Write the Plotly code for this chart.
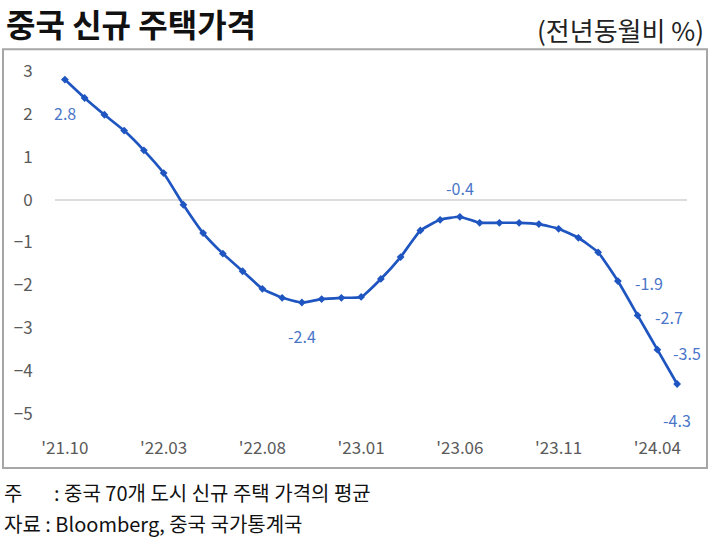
import plotly.graph_objects as go

# ---- data ----
months = ["21.10", "21.11", "21.12", "22.01", "22.02", "22.03", "22.04", "22.05",
          "22.06", "22.07", "22.08", "22.09", "22.10", "22.11", "22.12", "23.01",
          "23.02", "23.03", "23.04", "23.05", "23.06", "23.07", "23.08", "23.09",
          "23.10", "23.11", "23.12", "24.01", "24.02", "24.03", "24.04", "24.05"]
yoy = [2.8, 2.37, 1.98, 1.61, 1.15, 0.62, -0.12, -0.78,
       -1.26, -1.67, -2.08, -2.29, -2.4, -2.32, -2.29, -2.27,
       -1.85, -1.34, -0.72, -0.47, -0.4, -0.54, -0.54, -0.54,
       -0.57, -0.68, -0.89, -1.23, -1.9, -2.7, -3.5, -4.3]
tick_months = ["21.10", "22.03", "22.08", "23.01", "23.06", "23.11", "24.04"]
tick_text = ["'" + m for m in tick_months]
y_ticks = [3, 2, 1, 0, -1, -2, -3, -4, -5]
labeled = {"21.10": (0, 33), "22.10": (0, 33), "23.06": (0, -29),
           "24.02": (31, 2), "24.03": (31, 2), "24.04": (30, 3), "24.05": (0, 36)}

W, H = 710, 552
L, R = 55, 687          # plot area px
T, B = 70.7, 413.9

def px(xp):
    return (xp - L) / (R - L)

def py(yp):
    return (B - yp) / (B - T)

FONT = "Noto Sans CJK KR"
LINE = "#1f55c0"
LABEL = "#4a76c8"
TICK = "#5a5a5a"

fig = go.Figure()
fig.add_trace(go.Scatter(
    x=months, y=yoy, mode="lines+markers",
    line=dict(color=LINE, width=2.7, shape="spline", smoothing=0.4),
    marker=dict(symbol="diamond", size=6, color=LINE),
    hoverinfo="x+y", showlegend=False,
))

annotations = []
for i, (m, v) in enumerate(zip(months, yoy)):
    if m in labeled:
        dx, dy = labeled[m]
        annotations.append(dict(
            x=i, y=v, xref="x", yref="y", text=f"{v:.1f}",
            showarrow=True, arrowcolor="rgba(0,0,0,0)", ax=dx, ay=dy,
            font=dict(family=FONT, size=16, color=LABEL),
        ))

NOTE_SIZE = 20
annotations += [
    dict(x=px(4), y=py(23), xref="paper", yref="paper", xanchor="left", yanchor="middle",
         text="<b>중국 신규 주택가격</b>", showarrow=False,
         font=dict(family=FONT, size=32, color="#111111")),
    dict(x=px(706), y=py(29), xref="paper", yref="paper", xanchor="right", yanchor="middle",
         text="(전년동월비 %)", showarrow=False,
         font=dict(family=FONT, size=26, color="#222222")),
    dict(x=px(2), y=py(492), xref="paper", yref="paper", xanchor="left", yanchor="middle",
         text="주", showarrow=False,
         font=dict(family=FONT, size=NOTE_SIZE, color="#111111")),
    dict(x=px(52), y=py(492), xref="paper", yref="paper", xanchor="left", yanchor="middle",
         text=": 중국 70개 도시 신규 주택 가격의 평균", showarrow=False,
         font=dict(family=FONT, size=NOTE_SIZE, color="#111111")),
    dict(x=px(2), y=py(523), xref="paper", yref="paper", xanchor="left", yanchor="middle",
         text="자료 : Bloomberg, 중국 국가통계국", showarrow=False,
         font=dict(family=FONT, size=NOTE_SIZE, color="#111111")),
]

fig.update_layout(
    width=W, height=H,
    margin=dict(l=L, r=W - R, t=T, b=H - B, pad=0),
    paper_bgcolor="white", plot_bgcolor="white",
    annotations=annotations,
    shapes=[dict(type="rect", xref="paper", yref="paper",
                 x0=px(3), x1=px(707), y0=py(468), y1=py(49),
                 line=dict(color="#a6a6a6", width=2), fillcolor="rgba(0,0,0,0)", layer="below")],
    xaxis=dict(type="category", categoryorder="array", categoryarray=months,
               range=[-0.5, len(months) - 0.5],
               tickmode="array", tickvals=tick_months, ticktext=tick_text,
               showgrid=False, zeroline=False, showline=False,
               ticks="outside", ticklen=19, tickcolor="rgba(0,0,0,0)",
               tickfont=dict(family=FONT, size=17, color=TICK)),
    yaxis=dict(range=[-5, 3], tickmode="array", tickvals=y_ticks,
               showgrid=False, zeroline=True, zerolinecolor="#dcdcdc", zerolinewidth=2,
               showline=False, ticks="outside", ticklen=18, tickcolor="rgba(0,0,0,0)",
               tickfont=dict(family=FONT, size=17, color=TICK)),
)

fig.write_html("out.html")
